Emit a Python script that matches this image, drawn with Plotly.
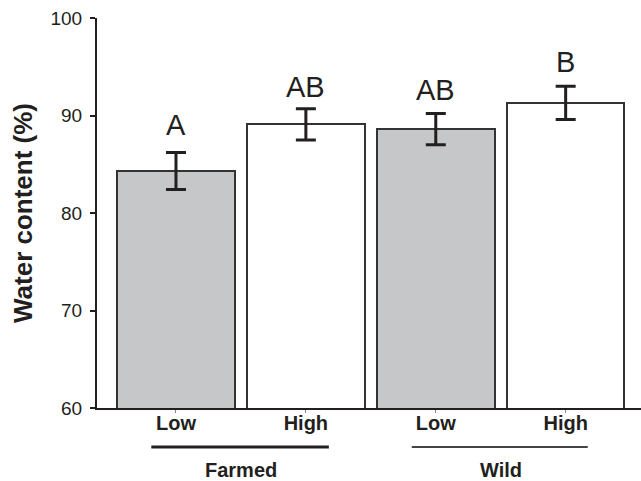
import plotly.graph_objects as go

# Data
conditions = ["Low", "High", "Low", "High"]
groups = ["Farmed", "Wild"]
water_content = [84.3, 89.1, 88.6, 91.3]
sem = [1.9, 1.6, 1.6, 1.7]
letters = ["A", "AB", "AB", "B"]
bar_colors = ["#c6c7c9", "#ffffff", "#c6c7c9", "#ffffff"]
y_ticks = [60, 70, 80, 90, 100]

FONT = "Arial, Liberation Sans, Helvetica, sans-serif"
INK = "#231f20"

xpos = list(range(len(water_content)))

fig = go.Figure()
fig.add_trace(go.Bar(
    x=xpos, y=water_content, width=0.905,
    marker=dict(color=bar_colors, line=dict(color="#333333", width=2)),
    error_y=dict(type="data", array=sem, visible=True, color=INK, thickness=3, width=10),
    showlegend=False,
))

# significance letters above error bars
letter_shift = [10, 4, 6, 6]
for i, (v, e, t) in enumerate(zip(water_content, sem, letters)):
    fig.add_annotation(x=xpos[i], y=v + e, text=t, showarrow=False,
                       yanchor="bottom", yshift=letter_shift[i],
                       font=dict(family=FONT, size=29, color=INK))

# group lines and labels
fig.add_shape(type="line", xref="x", yref="paper", x0=-0.19, x1=1.177, y0=-0.1, y1=-0.1,
              line=dict(color=INK, width=3))
fig.add_shape(type="line", xref="x", yref="paper", x0=1.815, x1=3.17, y0=-0.1, y1=-0.1,
              line=dict(color="#444444", width=2))
for gx, g in zip([0.5, 2.5], groups):
    fig.add_annotation(x=gx, y=-0.16, xref="x", yref="paper", text="<b>%s</b>" % g,
                       showarrow=False, yanchor="middle",
                       font=dict(family=FONT, size=20, color=INK))

fig.update_layout(
    width=641, height=481,
    margin=dict(l=97, r=0, t=18, b=73, autoexpand=False),
    plot_bgcolor="white", paper_bgcolor="white",
    font=dict(family=FONT, color=INK),
    bargap=0,
)
fig.update_xaxes(
    range=[-0.608, 3.58],
    tickvals=xpos, ticktext=["<b>%s</b>" % c for c in conditions],
    tickfont=dict(family=FONT, size=20, color=INK),
    showline=True, linecolor=INK, linewidth=2,
    ticks="outside", ticklen=3, tickcolor="#888888", tickwidth=1,
    ticklabelstandoff=-7,
    showgrid=False, zeroline=False, fixedrange=True,
)
fig.update_yaxes(
    range=[60, 100], tickvals=y_ticks,
    tickfont=dict(family=FONT, size=19, color=INK),
    showline=True, linecolor=INK, linewidth=2,
    ticks="outside", ticklen=5, tickcolor=INK, tickwidth=2,
    ticklabelstandoff=4,
    showgrid=False, zeroline=False, fixedrange=True,
    title=dict(text="<b>Water content (%)</b>", font=dict(family=FONT, size=26, color=INK), standoff=10),
)

fig.write_html("out.html", config={"displayModeBar": False},
               post_script="document.body.style.margin='0';document.body.style.overflow='hidden';")
